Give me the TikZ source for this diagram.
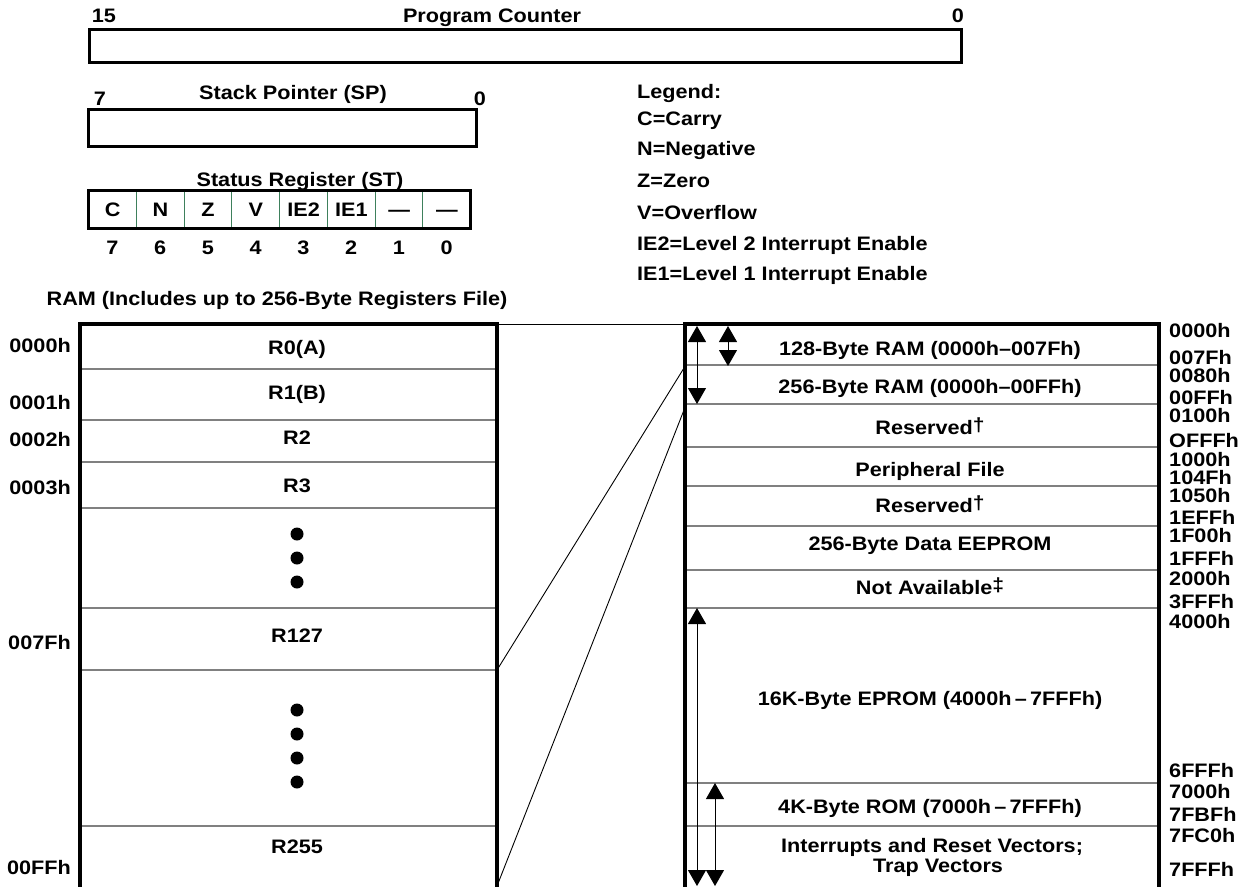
\documentclass[tikz,border=0pt]{standalone}
\usepackage{fontspec}
\setmainfont{Liberation Sans}[FakeStretch=1.11]
\usetikzlibrary{arrows.meta}
\definecolor{bitdiv}{RGB}{62,128,92}
\definecolor{sepgray}{RGB}{128,128,128}
\newcommand{\fnmark}[1]{\raisebox{3pt}{\fontsize{19}{19}\selectfont #1}}
\begin{document}
\begin{tikzpicture}[x=1pt, y=-1pt,
    every node/.style={inner sep=0pt, text height=14pt, text depth=0pt,
      font=\fontsize{19.5}{23}\selectfont\bfseries},
    regbox/.style={draw, line width=3pt, anchor=north west},
    bitcell/.style={minimum width=47.75pt, minimum height=38pt, anchor=north west},
    mapedge/.style={line width=3.3pt},
    sepline/.style={draw=sepgray, line width=1.4pt},
    tie/.style={line width=0.9pt},
    rangearrow/.style={{Triangle[length=16pt,width=18pt]}-{Triangle[length=16pt,width=18pt]}, line width=1pt}
  ]
  \useasboundingbox (0,0) rectangle (1241,886);

  % registers
  \node (pc) [regbox, minimum width=872pt, minimum height=33pt] at (88,28) {};
  \node (pchi) at (104,15) {15};
  \node (pcname) at (492,15) {Program Counter};
  \node (pclo) at (958,15) {0};

  \node (sp) [regbox, minimum width=388pt, minimum height=37pt] at (87,108) {};
  \node (sphi) at (100,98) {7};
  \node (spname) at (293,92) {Stack Pointer (SP)};
  \node (splo) at (480,98) {0};

  \node (stname) at (300,179) {Status Register (ST)};
  \foreach \f/\b [count=\i from 0] in {C/7,N/6,Z/5,V/4,IE2/3,IE1/2,—/1,—/0} {
    \node (st\i) [bitcell] at (88.5+47.75*\i,190) {\f};
    \node (bit\i) at (112.4+47.75*\i,247) {\b};
  }
  \foreach \i in {1,...,7}
    \draw [bitdiv, line width=1pt] (st\i.north west) -- (st\i.south west);
  \draw [line width=3pt] (st0.north west) rectangle (st7.south east);

  % legend
  \foreach \t/\y [count=\k] in {Legend:/91, C=Carry/118, N=Negative/148, Z=Zero/180,
      V=Overflow/212, IE2=Level 2 Interrupt Enable/243, IE1=Level 1 Interrupt Enable/273}
    \node (leg\k) [anchor=west] at (637,\y) {\t};

  % register file
  \node (ramname) at (277,298) {RAM (Includes up to 256-Byte Registers File)};
  \foreach \y in {369,420,462,508,608,670,826}
    \draw [sepline] (80,\y) -- (497,\y);
  \coordinate (ramnw) at (80,324);
  \coordinate (ramne) at (497,324);
  \foreach \n/\t/\y in {r0/R0(A)/347, r1/R1(B)/392, r2/R2/437, r3/R3/485, r127/R127/635, r255/R255/846}
    \node (\n) at (297,\y) {\t};
  \foreach \y in {534,558,582,710,734,758,782}
    \fill (297,\y) circle (6.5);
  \foreach \t/\y [count=\k] in {0000h/345, 0001h/402, 0002h/439, 0003h/487, 007Fh/642, 00FFh/867}
    \node (ladr\k) [anchor=east] at (71,\y) {\t};

  % memory map
  \foreach \y in {365,404,447,486,526,570,608,783,826}
    \draw [sepline] (685,\y) -- (1159,\y);
  \coordinate (mapnw) at (685,324);
  \coordinate (mapne) at (1159,324);
  \node (m128) at (930,348) {128-Byte RAM (0000h–007Fh)};
  \node (m256) at (930,386) {256-Byte RAM (0000h–00FFh)};
  \node (mres1) at (930,427) {Reserved\fnmark{†}};
  \node (mpf) at (930,469) {Peripheral File};
  \node (mres2) at (930,505) {Reserved\fnmark{†}};
  \node (meep) at (930,543) {256-Byte Data EEPROM};
  \node (mna) at (930,587) {Not Available\fnmark{‡}};
  \node (meprom) at (930,698) {16K-Byte EPROM (4000h\,–\,7FFFh)};
  \node (mrom) at (930,806) {4K-Byte ROM (7000h\,–\,7FFFh)};
  \node (mvec) at (932,845) {Interrupts and Reset Vectors;};
  \node (mtrap) at (938,865) {Trap Vectors};
  \foreach \t/\y [count=\k] in {0000h/330, 007Fh/357, 0080h/375, 00FFh/397, 0100h/415,
      OFFFh/440, 1000h/459, 104Fh/477, 1050h/495, 1EFFh/517, 1F00h/535, 1FFFh/558,
      2000h/578, 3FFFh/601, 4000h/621, 6FFFh/770, 7000h/791, 7FBFh/814, 7FC0h/835, 7FFFh/869}
    \node (radr\k) [anchor=west] at (1169,\y) {\t};

  % connectors
  \coordinate (r127end) at (497,670);
  \coordinate (r255end) at (497,886);
  \coordinate (map128) at (684,368);
  \coordinate (map256) at (684,410);
  \draw [tie] (ramne) -- (mapnw);
  \draw [tie] (r127end) -- (map128);
  \draw [tie] (r255end) -- (map256);

  \draw [mapedge] (80,890) -- (ramnw) -- (ramne) -- (497,890);
  \draw [mapedge] (685,890) -- (mapnw) -- (mapne) -- (1159,890);

  % ranges
  \coordinate (rt1) at (697,326); \coordinate (rb1) at (697,404);
  \coordinate (rt2) at (728,326); \coordinate (rb2) at (728,366);
  \coordinate (et1) at (697,608); \coordinate (eb1) at (697,886);
  \coordinate (et2) at (715,783); \coordinate (eb2) at (715,886);
  \draw [rangearrow] (rt1) -- (rb1);
  \draw [rangearrow] (rt2) -- (rb2);
  \draw [rangearrow] (et1) -- (eb1);
  \draw [rangearrow] (et2) -- (eb2);
\end{tikzpicture}
\end{document}
